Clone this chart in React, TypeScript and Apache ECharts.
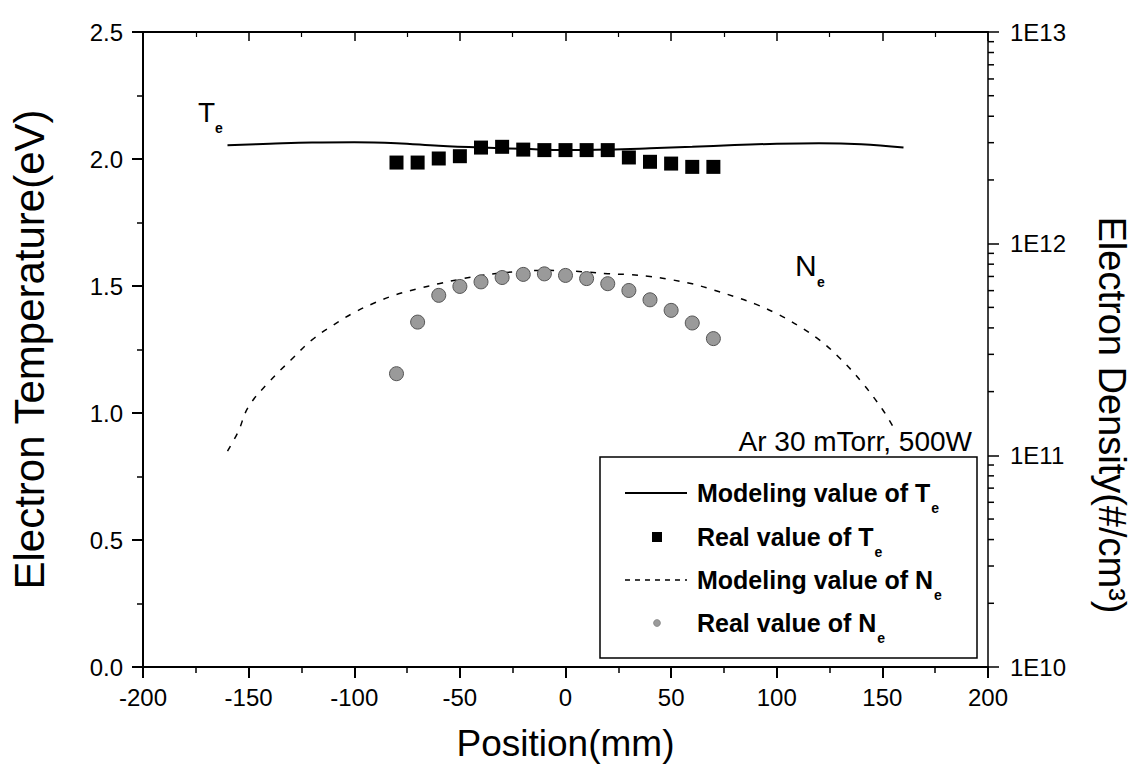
import React, { useEffect, useRef } from 'react';
import * as echarts from 'echarts';

// ---- data ----
const teModelPos = [-160, -140, -120, -100, -80, -60, -40, -20, 0, 20, 40, 60, 80, 100, 120, 140, 160];
const teModelVal = [2.054, 2.06, 2.065, 2.066, 2.062, 2.052, 2.045, 2.04, 2.035, 2.037, 2.042, 2.048, 2.055, 2.06, 2.062, 2.058, 2.045];

const realPos = [-80, -70, -60, -50, -40, -30, -20, -10, 0, 10, 20, 30, 40, 50, 60, 70];
const teRealVal = [1.986, 1.986, 2.002, 2.011, 2.045, 2.048, 2.037, 2.035, 2.035, 2.035, 2.035, 2.006, 1.989, 1.982, 1.969, 1.969];
const neRealVal = [2.43e11, 4.26e11, 5.7e11, 6.28e11, 6.6e11, 6.92e11, 7.16e11, 7.2e11, 7.08e11, 6.84e11, 6.47e11, 6.01e11, 5.43e11, 4.84e11, 4.22e11, 3.56e11];

const neModelPos = [-160, -155, -150, -140, -130, -120, -110, -100, -90, -80, -70, -60, -50, -40, -30, -20, -10, 0, 10, 20, 30, 40, 50, 60, 70, 80, 90, 100, 110, 120, 130, 140, 150, 155];
const neModelVal = [1.047e11, 1.29e11, 1.7e11, 2.24e11, 2.82e11, 3.51e11, 4.12e11, 4.73e11, 5.27e11, 5.75e11, 6.12e11, 6.47e11, 6.79e11, 7.08e11, 7.28e11, 7.41e11, 7.48e11, 7.45e11, 7.35e11, 7.21e11, 7.14e11, 7.0e11, 6.76e11, 6.46e11, 6.05e11, 5.62e11, 5.18e11, 4.67e11, 4.11e11, 3.52e11, 2.87e11, 2.23e11, 1.65e11, 1.37e11];

const densityMinorTicks = [
  2e10, 3e10, 4e10, 5e10, 6e10, 7e10, 8e10, 9e10,
  2e11, 3e11, 4e11, 5e11, 6e11, 7e11, 8e11, 9e11,
  2e12, 3e12, 4e12, 5e12, 6e12, 7e12, 8e12, 9e12,
];

const legendLabels = ['Modeling value of T', 'Real value of T', 'Modeling value of N', 'Real value of N'];

const FONT = '"Liberation Sans", Arial, sans-serif';

function measure(text: string, font: string): number {
  const c = document.createElement('canvas').getContext('2d');
  if (!c) return text.length * 12;
  c.font = font;
  return c.measureText(text).width;
}

export default function App() {
  const ref = useRef<HTMLDivElement>(null);

  useEffect(() => {
    if (!ref.current) return;
    const chart = echarts.init(ref.current, undefined, { renderer: 'svg' });

    const axisLine = { show: true, onZero: false, lineStyle: { color: '#000', width: 2 } };
    const legendFont = `bold 25px ${FONT}`;
    const legendX = 697;
    const legendYs = [493, 537, 580, 623];

    const legendGraphics: any[] = [
      {
        type: 'rect', z: 100,
        shape: { x: 600, y: 457, width: 377, height: 201 },
        style: { fill: '#fff', stroke: '#000', lineWidth: 1.5 },
      },
      { type: 'line', z: 101, shape: { x1: 625, y1: legendYs[0], x2: 687, y2: legendYs[0] }, style: { stroke: '#000', lineWidth: 2 } },
      { type: 'rect', z: 101, shape: { x: 652, y: legendYs[1] - 5, width: 10, height: 10 }, style: { fill: '#000' } },
      { type: 'line', z: 101, shape: { x1: 625, y1: legendYs[2], x2: 687, y2: legendYs[2] }, style: { stroke: '#000', lineWidth: 1.5, lineDash: [5, 5] } },
      { type: 'circle', z: 101, shape: { cx: 657, cy: legendYs[3], r: 3.5 }, style: { fill: '#9a9a9a', stroke: '#666', lineWidth: 0.5 } },
    ];
    legendLabels.forEach((label, i) => {
      const w = measure(label, legendFont);
      legendGraphics.push({
        type: 'text', z: 101, x: legendX, y: legendYs[i],
        style: { text: label, font: legendFont, fill: '#000', align: 'left', verticalAlign: 'middle' },
      });
      legendGraphics.push({
        type: 'text', z: 101, x: legendX + w + 1, y: legendYs[i] + 8,
        style: { text: 'e', font: `bold 14px ${FONT}`, fill: '#000', align: 'left', verticalAlign: 'top' },
      });
    });

    const option: any = {
      animation: false,
      backgroundColor: '#fff',
      grid: { left: 137, right: 149, top: 32, bottom: 114, containLabel: false },
      xAxis: [
        {
          type: 'value', min: -200, max: 200, interval: 50, position: 'bottom',
          axisLine,
          axisTick: { show: true, inside: false, length: 11, lineStyle: { color: '#000', width: 2 } },
          minorTick: { show: true, splitNumber: 2, length: 6, lineStyle: { color: '#000', width: 1.5 } },
          axisLabel: { color: '#000', fontSize: 24, fontFamily: FONT, margin: 18 },
          splitLine: { show: false },
          minorSplitLine: { show: false },
          name: 'Position(mm)', nameLocation: 'middle', nameGap: 58,
          nameTextStyle: { fontSize: 37, color: '#000', fontFamily: FONT },
        },
        {
          type: 'value', min: -200, max: 200, interval: 50, position: 'top',
          axisLine,
          axisTick: { show: true, inside: true, length: 9, lineStyle: { color: '#000', width: 1.5 } },
          minorTick: { show: true, splitNumber: 2, length: 5, lineStyle: { color: '#000', width: 1.2 } },
          axisLabel: { show: false },
          splitLine: { show: false },
        },
      ],
      yAxis: [
        {
          type: 'value', min: 0, max: 2.5, interval: 0.5, position: 'left',
          axisLine,
          axisTick: { show: true, inside: false, length: 11, lineStyle: { color: '#000', width: 2 } },
          minorTick: { show: true, splitNumber: 2, length: 6, lineStyle: { color: '#000', width: 1.5 } },
          axisLabel: { color: '#000', fontSize: 24, fontFamily: FONT, margin: 20, formatter: (v: number) => v.toFixed(1) },
          splitLine: { show: false },
          name: 'Electron Temperature(eV)', nameLocation: 'middle', nameGap: 93, nameRotate: 90,
          nameTextStyle: { fontSize: 42, color: '#000', fontFamily: FONT },
        },
        {
          type: 'log', logBase: 10, min: 1e10, max: 1e13, position: 'right',
          axisLine: { show: true, onZero: false, lineStyle: { color: '#000', width: 1.5 } },
          axisTick: { show: true, inside: false, length: 11, lineStyle: { color: '#000', width: 1.5 } },
          axisLabel: { color: '#000', fontSize: 24, fontFamily: FONT, margin: 22, formatter: (v: number) => '1E' + Math.round(Math.log10(v)) },
          splitLine: { show: false },
        },
      ],
      series: [
        {
          name: 'Modeling value of Te', type: 'line', xAxisIndex: 0, yAxisIndex: 0,
          data: teModelPos.map((x, i) => [x, teModelVal[i]]),
          smooth: 0.4, showSymbol: false, symbol: 'none',
          lineStyle: { color: '#000', width: 2 }, z: 3,
        },
        {
          name: 'Real value of Te', type: 'scatter', xAxisIndex: 0, yAxisIndex: 0,
          data: realPos.map((x, i) => [x, teRealVal[i]]),
          symbol: 'rect', symbolSize: 14,
          itemStyle: { color: '#000', opacity: 1 }, z: 4,
        },
        {
          name: 'Modeling value of Ne', type: 'line', xAxisIndex: 0, yAxisIndex: 1,
          data: neModelPos.map((x, i) => [x, neModelVal[i]]),
          smooth: 0.4, showSymbol: false, symbol: 'none',
          lineStyle: { color: '#000', width: 1.5, type: [6, 8] }, z: 3,
        },
        {
          name: 'Real value of Ne', type: 'scatter', xAxisIndex: 0, yAxisIndex: 1,
          data: realPos.map((x, i) => [x, neRealVal[i]]),
          symbol: 'circle', symbolSize: 14,
          itemStyle: { color: '#9a9a9a', borderColor: '#555', borderWidth: 1, opacity: 1 }, z: 4,
        },
        {
          name: 'density minor ticks', type: 'custom', xAxisIndex: 0, yAxisIndex: 1,
          data: densityMinorTicks.map((v) => [200, v]),
          clip: false, silent: true,
          renderItem: (params: any, api: any) => {
            const p = api.coord([api.value(0), api.value(1)]);
            return {
              type: 'line',
              shape: { x1: p[0], y1: p[1], x2: p[0] + 6, y2: p[1] },
              style: { stroke: '#000', lineWidth: 1.5 },
            };
          },
        },
      ],
      graphic: [
        { type: 'text', x: 198, y: 98, style: { text: 'T', font: `28px ${FONT}`, fill: '#000', align: 'left', verticalAlign: 'top' } },
        { type: 'text', x: 215, y: 121, style: { text: 'e', font: `bold 14px ${FONT}`, fill: '#000', align: 'left', verticalAlign: 'top' } },
        { type: 'text', x: 795, y: 250, style: { text: 'N', font: `30px ${FONT}`, fill: '#000', align: 'left', verticalAlign: 'top' } },
        { type: 'text', x: 817, y: 275, style: { text: 'e', font: `bold 14px ${FONT}`, fill: '#000', align: 'left', verticalAlign: 'top' } },
        { type: 'text', z: 50, x: 972, y: 441, style: { text: 'Ar 30 mTorr, 500W', font: `28px ${FONT}`, fill: '#000', align: 'right', verticalAlign: 'middle' } },
        {
          type: 'text', x: 1112, y: 415, rotation: -Math.PI / 2,
          style: { text: 'Electron Density(#/cm³)', font: `38px ${FONT}`, fill: '#000', align: 'center', verticalAlign: 'middle' },
        },
        ...legendGraphics,
      ],
    };

    chart.setOption(option);
    return () => chart.dispose();
  }, []);

  return (
    <div
      ref={ref}
      style={{ position: 'fixed', left: 0, top: 0, width: 1137, height: 781, background: '#fff' }}
    />
  );
}
